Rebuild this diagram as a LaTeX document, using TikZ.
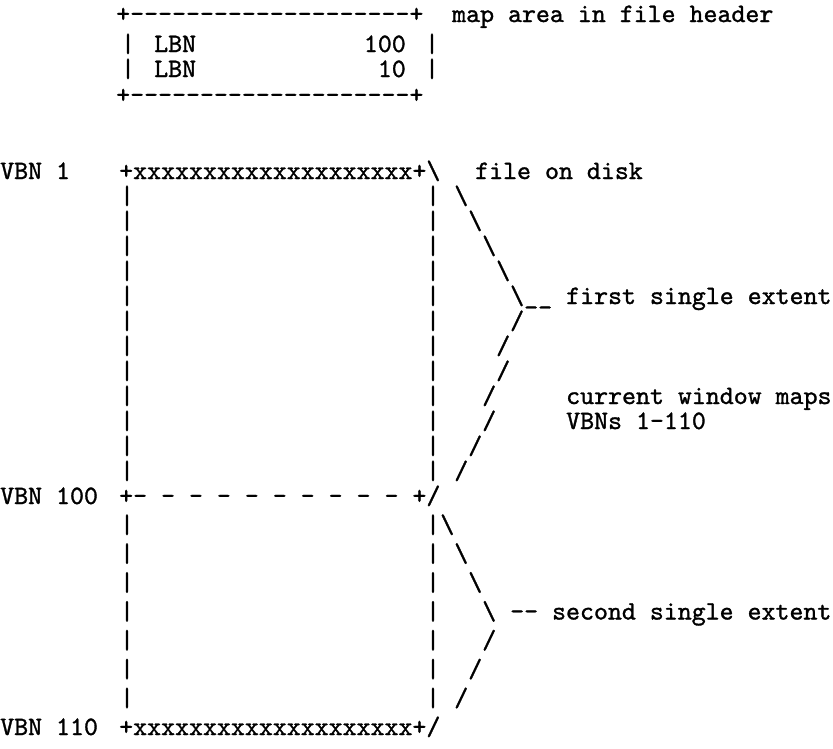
\documentclass[tikz,border=0pt]{standalone}
\usepackage{fontspec}
\usepackage{tikz}
\newfontfamily\mapmono{lmmono10-regular.otf}[FakeBold=1.2]
\newcommand{\mapfont}{\fontsize{26.6}{30}\selectfont\mapmono}
\tikzset{
	ascii/.style={font=\mapfont, inner sep=0pt, anchor=base west},
	asciiend/.style={font=\mapfont, inner sep=0pt, anchor=base east},
	glyph/.style={font=\mapfont, inner sep=0pt, anchor=base},
}

\begin{document}
\begin{tikzpicture}[x=1pt, y=-1pt]

		\useasboundingbox (0,0) rectangle (833,748);

		% map area in file header
		\node[ascii] (maptop) at (116,22) {+\foreach \i in {1,...,20}{-}+};
		\node[ascii] (maplabel) at (452,22) {map area in file header};
		\node[glyph] (mapl1) at (128,52) {|};
		\node[ascii] (lbn1) at (154,52) {LBN};
		\node[asciiend] (num1) at (406,52) {100};
		\node[glyph] (mapr1) at (432,52) {|};
		\node[glyph] (mapl2) at (128,77) {|};
		\node[ascii] (lbn2) at (154,77) {LBN};
		\node[asciiend] (num2) at (406,77) {10};
		\node[glyph] (mapr2) at (432,77) {|};
		\node[ascii] (mapbot) at (116,103) {+\foreach \i in {1,...,20}{-}+};

		% file on disk, first extent
		\node[ascii] (vbn1) at (0,179) {VBN 1};
		\node[ascii] (filetop) at (119,179) {+\foreach \i in {1,...,20}{x}+\textbackslash};
		\node[ascii] (disk) at (475,179) {file on disk};
		\foreach \k in {1,...,12}{
			\node[glyph] (barl\k) at (127,172+25*\k+7) {|};
			\node[glyph] (barr\k) at (433,172+25*\k+7) {|};
		}
		\foreach \c/\k in {32/1,33/2,34/3,35/4,36/5}
			\node[glyph] (down\k) at (126+13.97*\c-111.76,172+25*\k+7) {\textbackslash};
		\foreach \c/\k in {36/6,35/7,35/8,34/9,34/10,33/11,32/12}
			\node[glyph] (up\k) at (126+13.97*\c-111.76,172+25*\k+7) {/};
		\node[ascii] (tail1) at (524,304) {\_\_};
		\node[ascii] (first) at (566,304) {first single extent};
		\node[ascii] (window1) at (566,404) {current window maps};
		\node[ascii] (window2) at (566,429) {VBNs 1-110};

		% second extent
		\node[ascii] (vbn100) at (0,504) {VBN 100};
		\node[ascii] (filemid) at (119,504) {+\foreach \i in {1,...,10}{- }+/};
		\foreach \k in {1,...,7}{
			\node[glyph] (lowl\k) at (127,497+28.875*\k+7) {|};
			\node[glyph] (lowr\k) at (433,497+28.875*\k+7) {|};
		}
		\foreach \c/\k in {31/1,32/2,33/3,34/4}
			\node[glyph] (lowdown\k) at (126+13.97*\c-111.76,497+28.875*\k+7) {\textbackslash};
		\foreach \c/\k in {34/5,33/6,32/7}
			\node[glyph] (lowup\k) at (126+13.97*\c-111.76,497+28.875*\k+7) {/};
		\node[ascii] (second) at (510,619.5) {-{}- second single extent};
		\node[ascii] (vbn110) at (0,735) {VBN 110};
		\node[ascii] (filebot) at (119,735) {+\foreach \i in {1,...,20}{x}+/};

\end{tikzpicture}
\end{document}
